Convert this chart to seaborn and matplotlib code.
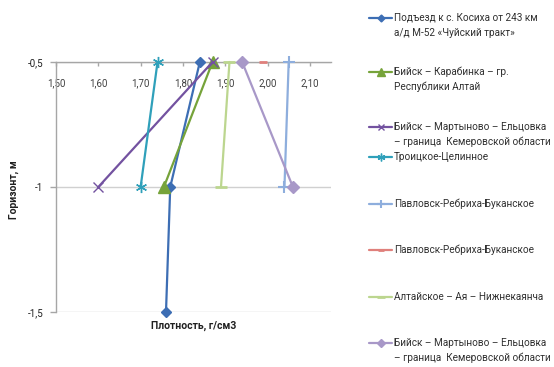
import numpy as np
import pandas as pd
import matplotlib
matplotlib.use("Agg")
import matplotlib.pyplot as plt
import seaborn as sns
from matplotlib.ticker import FuncFormatter

# Depth horizons, m
depth = [-0.5, -1.0, -1.5]

# Soil density by road section, g/cm3 (None = not measured)
kosikha = [1.84, 1.77, 1.76]
karabinka = [1.87, 1.755, None]
martynovo_1 = [1.87, 1.60, None]
troitskoe = [1.74, 1.70, None]
pavlovsk_1 = [2.05, 2.04, None]
pavlovsk_2 = [1.99, None, None]
altaiskoe = [1.91, 1.89, None]
martynovo_2 = [1.94, 2.06, None]

series_labels = [
    "Подъезд к с. Косиха от 243 км\nа/д М-52 «Чуйский тракт»",
    "Бийск – Карабинка – гр.\nРеспублики Алтай",
    "Бийск – Мартыново – Ельцовка\n– граница  Кемеровской области",
    "Троицкое-Целинное",
    "Павловск-Ребриха-Буканское",
    "Павловск-Ребриха-Буканское",
    "Алтайское – Ая – Нижнекаянча",
    "Бийск – Мартыново – Ельцовка\n– граница  Кемеровской области",
]
series_values = [kosikha, karabinka, martynovo_1, troitskoe,
                 pavlovsk_1, pavlovsk_2, altaiskoe, martynovo_2]

x_ticks = [1.50, 1.60, 1.70, 1.80, 1.90, 2.00, 2.10]
y_ticks = [-0.5, -1.0, -1.5]

styles = [
    dict(color="#3D6EB4", marker="D", markersize=5, mew=1),
    dict(color="#76A33A", marker="^", markersize=8, mew=1),
    dict(color="#7352A0", marker="x", markersize=7, mew=1),
    dict(color="#2FA0BA", marker=(6, 2, 0), markersize=8, mew=1),
    dict(color="#8EAEDD", marker="+", markersize=9, mew=1.5),
    dict(color="#E0807C", marker="_", markersize=6, mew=2),
    dict(color="#BCD68F", marker="_", markersize=8, mew=2),
    dict(color="#A898C8", marker="D", markersize=6, mew=1),
]

rows = []
for i, vals in enumerate(series_values):
    for d, v in zip(depth, vals):
        if v is not None:
            rows.append({"series": i, "density": v, "depth": d})
df = pd.DataFrame(rows)

sns.set_style("white")
plt.rcParams["font.family"] = ["Roboto", "DejaVu Sans"]

W, H = 554, 367
fig = plt.figure(figsize=(W / 100, H / 100), dpi=100)
ax = fig.add_axes([56 / W, 1 - 312 / H, 275 / W, 250 / H])

handles = []
for i, st in enumerate(styles):
    sub = df[df["series"] == i]
    sns.lineplot(data=sub, x="density", y="depth", sort=False, estimator=None,
                 ax=ax, legend=False, lw=1.6, color=st["color"],
                 marker=st["marker"], markersize=st["markersize"],
                 markeredgewidth=st["mew"], markeredgecolor=st["color"],
                 markerfacecolor=st["color"], clip_on=False, zorder=3)
    handles.append(ax.lines[-1])

ax.set_xlim(1.5, 2.15)
ax.set_ylim(-1.5, -0.5)
ax.set_xticks(x_ticks)
ax.set_yticks(y_ticks)
ax.xaxis.set_major_formatter(FuncFormatter(lambda v, p: f"{v:.2f}".replace(".", ",")))
ax.yaxis.set_major_formatter(FuncFormatter(lambda v, p: f"{v:g}".replace(".", ",")))

grey = "#A6A6A6"
ax.spines["top"].set_visible(False)
ax.spines["right"].set_visible(False)
ax.spines["bottom"].set_position(("data", -0.5))
for s in ("bottom", "left"):
    ax.spines[s].set_color(grey)
    ax.spines[s].set_linewidth(1.0)
ax.yaxis.grid(True, color="#D0D0D0", lw=1.0)
ax.xaxis.grid(False)
ax.set_axisbelow(True)

ax.tick_params(axis="x", direction="out", length=3, width=1, color=grey,
               pad=9, labelsize=7, labelcolor="#404040", bottom=True)
ax.tick_params(axis="y", direction="out", length=4, width=1, color=grey,
               pad=5, labelsize=7, labelcolor="#202020", left=True)

ax.set_xlabel("Плотность, г/см3", fontsize=7.5, fontweight="bold", color="#202020")
ax.xaxis.set_label_coords(0.5, -0.035)
ax.set_ylabel("Горизонт, м", fontsize=7.5, fontweight="bold", color="#202020",
              va="center")
ax.yaxis.set_label_coords(-0.155, 0.49)

# Legend: one entry per series, first label line next to the handle,
# continuation lines set underneath it
fs = 7.2
legend_y = [18, 72, 127, 157, 204, 250, 297, 343]
legs = []
for h, lab, yy in zip(handles, series_labels, legend_y):
    first = lab.split("\n")[0]
    leg = fig.legend([h], [first], loc="center left",
                     bbox_to_anchor=(369 / W, 1 - yy / H),
                     frameon=False, fontsize=fs, handlelength=2.3,
                     handletextpad=0.2, borderpad=0, borderaxespad=0,
                     numpoints=1, markerscale=0.7)
    for t in leg.get_texts():
        t.set_color("#303030")
    legs.append(leg)

fig.canvas.draw()
for leg, lab, yy in zip(legs, series_labels, legend_y):
    rest = lab.split("\n")[1:]
    bb = leg.get_texts()[0].get_window_extent()
    for k, line in enumerate(rest, start=1):
        fig.text(bb.x0 / W, 1 - (yy + 15 * k) / H, line, fontsize=fs,
                 color="#303030", ha="left", va="center")

fig.savefig("out.png", dpi=100)
